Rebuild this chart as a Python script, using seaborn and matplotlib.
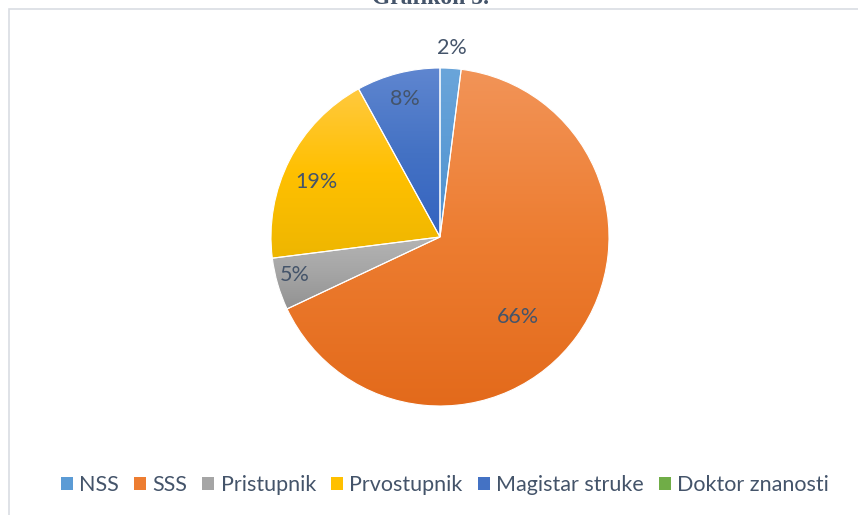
import numpy as np
import matplotlib
matplotlib.use("Agg")
import matplotlib.pyplot as plt
import matplotlib.colors as mcolors
from matplotlib.patches import Rectangle
import seaborn as sns

# data
categories = ["NSS", "SSS", "Pristupnik", "Prvostupnik", "Magistar struke", "Doktor znanosti"]
shares = [2, 66, 5, 19, 8, 0]
title = "Grafikon 5."

# Excel-like palette: (top, middle, bottom) of each slice gradient
base_colors = ["#5b9bd5", "#ed7d31", "#a5a5a5", "#ffc000", "#4472c4", "#70ad47"]
top_colors = ["#6aa5da", "#f29458", "#b4b4b4", "#ffc93f", "#5f86d0", "#7fb85a"]
bottom_colors = ["#4f8fcc", "#e36a1b", "#929292", "#eeb600", "#3463c0", "#62a03c"]

# label placement (radius fraction, angle nudge in degrees)
label_dist = [1.12, 0.66, 0.89, 0.80, 0.84, 0.8]
label_nudge = [0, -10, -1.5, 3, 0, 0]

sns.set_style("white")
plt.rcParams["font.family"] = ["Lato", "DejaVu Sans"]
text_col = "#44546a"

fig = plt.figure(figsize=(8.58, 5.15), dpi=100)

# chart frame (partially outside the picture, like the screenshot)
fig.patches.append(Rectangle((8.5 / 858, -0.05), 1.2, 1 - 8.5 / 515 + 0.05,
                             transform=fig.transFigure, fill=False,
                             edgecolor="#d9dde3", linewidth=1.2))
fig.text(430 / 858, 1 - 4 / 515, title, ha="center", va="baseline",
         fontsize=17, fontweight="bold", family="Liberation Serif", color=text_col)

R = 169
cx, cy = 440, 237
ax = fig.add_axes([(cx - R) / 858, (515 - cy - R) / 515, 2 * R / 858, 2 * R / 515])

wedges, _ = ax.pie(shares, colors=base_colors, startangle=90, counterclock=False,
                   radius=1, wedgeprops=dict(linewidth=0.8, edgecolor="white"))
ax.axis("off")

# vertical gradient per slice
for w, t, m, b, v in zip(wedges, top_colors, base_colors, bottom_colors, shares):
    if v == 0:
        continue
    cmap = mcolors.LinearSegmentedColormap.from_list("g", [b, m, t])
    bb = w.get_path().get_extents(w.get_patch_transform())
    grad = np.linspace(0, 1, 256).reshape(-1, 1)
    im = ax.imshow(grad, cmap=cmap, origin="lower", aspect="auto",
                   extent=[bb.x0, bb.x1, bb.y0, bb.y1], zorder=w.get_zorder())
    im.set_clip_path(w)
    w.set_facecolor("none")
    w.set_zorder(w.get_zorder() + 0.5)
ax.set_xlim(-1, 1)
ax.set_ylim(-1, 1)

total = sum(shares)
cum = 0
for v, d, nudge in zip(shares, label_dist, label_nudge):
    if v > 0:
        mid = 90 - 360 * (cum + v / 2) / total + nudge
        ax.text(d * np.cos(np.radians(mid)), d * np.sin(np.radians(mid)),
                f"{round(100 * v / total)}%", ha="center", va="center",
                fontsize=15.5, color=text_col, clip_on=False)
    cum += v

handles = [Rectangle((0, 0), 1, 1, facecolor=c, edgecolor="none") for c in base_colors]
fig.legend(handles, categories, loc="center", bbox_to_anchor=(445 / 858, 1 - 485 / 515),
           ncol=6, frameon=False, fontsize=15.5, labelcolor=text_col,
           handlelength=0.55, handleheight=0.55, handletextpad=0.3, columnspacing=0.7)

fig.savefig("out.png", dpi=100)
